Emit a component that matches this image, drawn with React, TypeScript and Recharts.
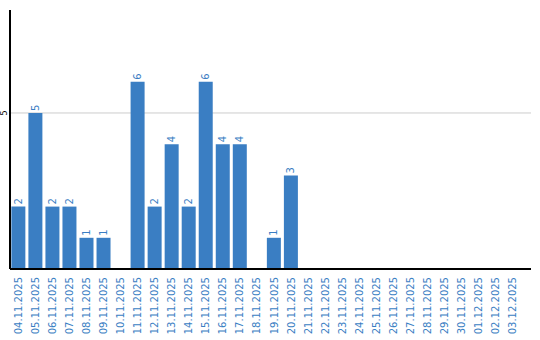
import React from "react";
import { BarChart, Bar, XAxis, YAxis, CartesianGrid, LabelList } from "recharts";

const dates = [
  "04.11.2025", "05.11.2025", "06.11.2025", "07.11.2025", "08.11.2025", "09.11.2025",
  "10.11.2025", "11.11.2025", "12.11.2025", "13.11.2025", "14.11.2025", "15.11.2025",
  "16.11.2025", "17.11.2025", "18.11.2025", "19.11.2025", "20.11.2025", "21.11.2025",
  "22.11.2025", "23.11.2025", "24.11.2025", "25.11.2025", "26.11.2025", "27.11.2025",
  "28.11.2025", "29.11.2025", "30.11.2025", "01.12.2025", "02.12.2025", "03.12.2025",
];
const counts = [2, 5, 2, 2, 1, 1, 0, 6, 2, 4, 2, 6, 4, 4, 0, 1, 3, 0, 0, 0, 0, 0, 0, 0, 0, 0, 0, 0, 0, 0];
const yTicks = [5];

const data = dates.map((d, i) => ({ date: d, value: counts[i] }));

const BLUE = "#3a7ec3";
const FONT = "DejaVu Sans";

const XTick = (props: any) => {
  const { x, payload } = props;
  return (
    <text
      x={x}
      y={277}
      transform={`rotate(-90 ${x} 277)`}
      textAnchor="end"
      dy="0.35em"
      fill={BLUE}
      fontSize={10}
      fontFamily={FONT}
    >
      {payload.value}
    </text>
  );
};

const YTick = (props: any) => {
  const { y, payload } = props;
  return (
    <text
      x={4}
      y={y}
      transform={`rotate(-90 4 ${y})`}
      textAnchor="middle"
      dy="0.35em"
      fill="#000"
      fontSize={8}
      fontFamily={FONT}
    >
      {payload.value}
    </text>
  );
};

const ValueLabel = (props: any) => {
  const { x, y, width, value } = props;
  if (!value) return null;
  const cx = x + width / 2;
  const cy = y - 2;
  return (
    <text
      x={cx}
      y={cy}
      transform={`rotate(-90 ${cx} ${cy})`}
      textAnchor="start"
      dy="0.35em"
      fill={BLUE}
      fontSize={10}
      fontFamily={FONT}
    >
      {value}
    </text>
  );
};

export default function App() {
  return (
    <div style={{ position: "absolute", left: 0, top: 0 }}>
      <BarChart
        width={540}
        height={340}
        data={data}
        margin={{ top: 10, right: 9, left: 0, bottom: 0 }}
        barCategoryGap="8%"
      >
        <CartesianGrid vertical={false} horizontalValues={yTicks} stroke="#cccccc" />
        <XAxis
          dataKey="date"
          height={71}
          interval={0}
          tick={<XTick />}
          tickLine={false}
          axisLine={{ stroke: "#000", strokeWidth: 2 }}
          padding={{ left: 0, right: 10 }}
        />
        <YAxis
          width={10}
          domain={[0, 8.3]}
          ticks={yTicks}
          tick={<YTick />}
          tickLine={false}
          axisLine={{ stroke: "#000", strokeWidth: 2 }}
        />
        <Bar dataKey="value" fill={BLUE} isAnimationActive={false}>
          <LabelList dataKey="value" content={<ValueLabel />} />
        </Bar>
      </BarChart>
    </div>
  );
}
